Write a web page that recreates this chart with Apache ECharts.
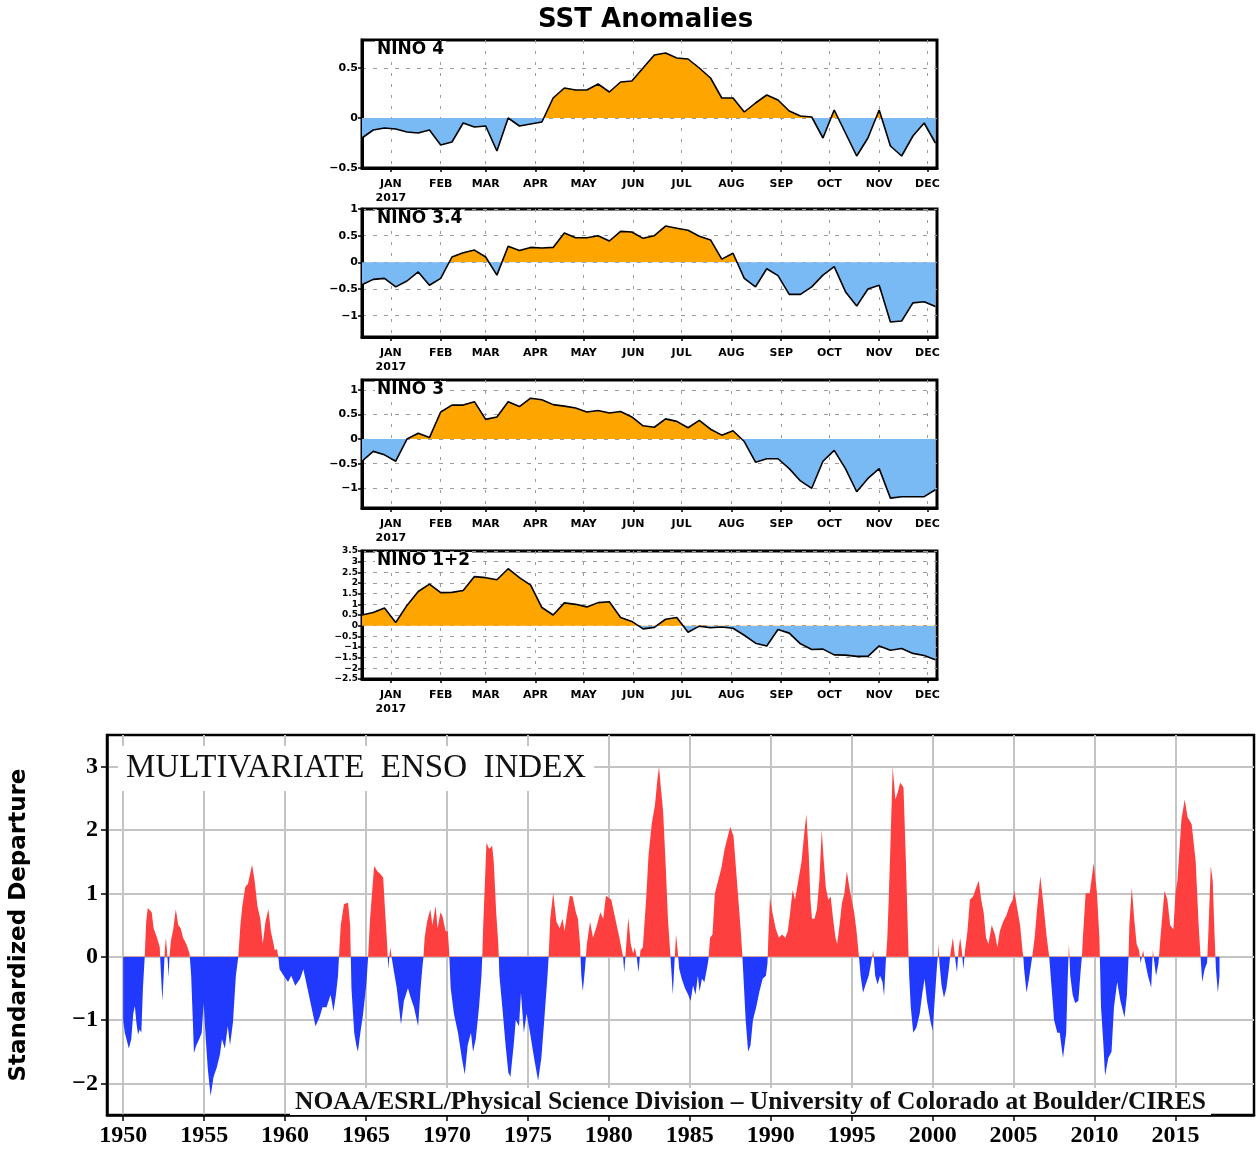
<!DOCTYPE html>
<html lang="en">
<head>
<meta charset="utf-8">
<title>SST Anomalies / Multivariate ENSO Index</title>
<script src="https://cdn.jsdelivr.net/npm/echarts@6.0.0/dist/echarts.min.js"></script>
<style>
  html, body { margin: 0; padding: 0; background: #fff; }
  #main { width: 1256px; height: 1149px; }
</style>
</head>
<body>
<div id="main"></div>
<script>
// ---- weekly Nino SST anomalies (days counted from 1 Jan 2017) ----
var weekDays = [-18, -11, -4, 3, 10, 17, 24, 31, 38, 45, 52, 59, 66, 73, 80, 87, 94, 101, 108, 115,
    122, 129, 136, 143, 150, 157, 164, 171, 178, 185, 192, 199, 206, 213, 220, 227, 234, 241, 248, 255,
    262, 269, 276, 283, 290, 297, 304, 311, 318, 325, 332, 339];
var monthStarts = [0, 31, 59, 90, 120, 151, 181, 212, 243, 273, 304, 334];
var monthNames = ['JAN', 'FEB', 'MAR', 'APR', 'MAY', 'JUN', 'JUL', 'AUG', 'SEP', 'OCT', 'NOV', 'DEC'];

var nino4 = [-0.2, -0.12, -0.1, -0.11, -0.14, -0.15, -0.12, -0.27, -0.24, -0.05,
    -0.09, -0.08, -0.33, 0.0, -0.08, -0.06, -0.04, 0.2, 0.3, 0.28,
    0.28, 0.34, 0.26, 0.36, 0.37, 0.5, 0.63, 0.65, 0.6, 0.59,
    0.5, 0.4, 0.2, 0.2, 0.06, 0.15, 0.23, 0.18, 0.07, 0.02,
    0.01, -0.2, 0.08, -0.15, -0.38, -0.2, 0.08, -0.28, -0.38, -0.18,
    -0.05, -0.25];
var nino34 = [-0.42, -0.32, -0.3, -0.46, -0.35, -0.18, -0.43, -0.3, 0.1, 0.18,
    0.23, 0.1, -0.24, 0.3, 0.22, 0.28, 0.27, 0.28, 0.55, 0.46,
    0.46, 0.5, 0.4, 0.58, 0.57, 0.45, 0.5, 0.68, 0.64, 0.6,
    0.49, 0.42, 0.06, 0.17, -0.3, -0.46, -0.12, -0.25, -0.6, -0.6,
    -0.46, -0.24, -0.08, -0.55, -0.82, -0.5, -0.43, -1.12, -1.1, -0.76,
    -0.74, -0.83];
var nino3 = [-0.45, -0.25, -0.32, -0.45, 0.0, 0.12, 0.03, 0.55, 0.69, 0.69,
    0.76, 0.4, 0.45, 0.76, 0.66, 0.83, 0.8, 0.7, 0.67, 0.63,
    0.55, 0.58, 0.53, 0.56, 0.45, 0.27, 0.24, 0.41, 0.36, 0.23,
    0.38, 0.2, 0.08, 0.17, -0.05, -0.47, -0.4, -0.4, -0.6, -0.85,
    -1.0, -0.45, -0.23, -0.6, -1.07, -0.8, -0.6, -1.2, -1.17, -1.17,
    -1.17, -1.03];
var nino12 = [0.5, 0.62, 0.83, 0.15, 0.95, 1.6, 1.95, 1.55, 1.56, 1.65,
    2.3, 2.25, 2.15, 2.67, 2.25, 1.9, 0.85, 0.5, 1.07, 1.0,
    0.88, 1.08, 1.12, 0.38, 0.2, -0.15, -0.08, 0.3, 0.38, -0.31,
    -0.02, -0.1, -0.06, -0.12, -0.45, -0.82, -0.95, -0.18, -0.35, -0.85,
    -1.12, -1.1, -1.37, -1.38, -1.44, -1.44, -0.95, -1.15, -1.07, -1.3,
    -1.4, -1.6];

var panelNames = ['NINO 4', 'NINO 3.4', 'NINO 3', 'NINO 1+2'];
var panelValues = [nino4, nino34, nino3, nino12];
var panelRanges = [[-0.5, 0.78], [-1.4, 1.0], [-1.4, 1.2], [-2.5, 3.5]];
var panelTicks = [
    [-0.5, 0, 0.5],
    [-1, -0.5, 0, 0.5, 1],
    [-1, -0.5, 0, 0.5, 1],
    [-2.5, -2, -1.5, -1, -0.5, 0, 0.5, 1, 1.5, 2, 2.5, 3, 3.5]
];

// ---- Multivariate ENSO Index, [year, standardized departure] ----
var mei1950s = [[1950.0, -1.0], [1950.1, -1.2], [1950.2, -1.3], [1950.35, -1.45], [1950.5, -1.3], [1950.62, -0.9],
    [1950.72, -0.78], [1950.82, -1.05], [1950.92, -1.23], [1951.02, -1.15], [1951.12, -1.2], [1951.22, -0.5],
    [1951.33, 0.0], [1951.42, 0.55], [1951.52, 0.77], [1951.63, 0.8], [1951.76, 0.7], [1951.88, 0.45],
    [1952.09, 0.3], [1952.26, 0.15], [1952.3, -0.1], [1952.36, -0.4], [1952.42, -0.7], [1952.5, -0.3],
    [1952.57, 0.1], [1952.64, 0.3], [1952.71, 0.3], [1952.76, -0.1], [1952.8, -0.33], [1952.86, 0.0],
    [1952.95, 0.25], [1953.1, 0.45], [1953.25, 0.75], [1953.4, 0.5], [1953.55, 0.45], [1953.7, 0.3],
    [1953.9, 0.2], [1954.1, 0.05], [1954.2, -0.3], [1954.3, -1.0], [1954.37, -1.52], [1954.52, -1.4],
    [1954.7, -1.3], [1954.85, -1.2], [1954.97, -0.73], [1955.1, -1.3], [1955.23, -1.78], [1955.4, -2.2],
    [1955.58, -1.9], [1955.78, -1.75], [1955.98, -1.54], [1956.1, -1.3], [1956.28, -1.45], [1956.46, -1.1],
    [1956.6, -1.4], [1956.78, -1.04], [1956.96, -0.3], [1957.11, 0.0], [1957.24, 0.5], [1957.36, 0.8],
    [1957.54, 1.1], [1957.71, 1.15], [1957.96, 1.45], [1958.12, 1.2], [1958.29, 0.8], [1958.47, 0.6],
    [1958.62, 0.2], [1958.79, 0.55], [1958.97, 0.75], [1959.12, 0.4], [1959.37, 0.1], [1959.5, 0.12]];
var mei1960s = [[1959.58, 0.0], [1959.66, -0.2], [1959.92, -0.3], [1960.18, -0.4], [1960.38, -0.3], [1960.63, -0.46],
    [1960.93, -0.35], [1961.13, -0.2], [1961.38, -0.5], [1961.63, -0.8], [1961.88, -1.1], [1962.14, -0.95],
    [1962.31, -0.8], [1962.56, -0.8], [1962.81, -0.6], [1962.99, -0.86], [1963.14, -0.6], [1963.27, -0.3],
    [1963.35, 0.1], [1963.44, 0.5], [1963.64, 0.83], [1963.89, 0.85], [1964.02, 0.5], [1964.06, 0.0],
    [1964.1, -0.5], [1964.27, -1.2], [1964.4, -1.4], [1964.5, -1.5], [1964.65, -1.2], [1964.82, -0.9],
    [1965.03, -0.4], [1965.13, 0.0], [1965.25, 0.6], [1965.4, 1.1], [1965.5, 1.43], [1965.7, 1.35],
    [1965.9, 1.3], [1966.06, 1.25], [1966.16, 0.8], [1966.28, 0.3], [1966.34, 0.0], [1966.38, -0.2],
    [1966.44, 0.0], [1966.5, 0.15], [1966.58, 0.0], [1966.7, -0.2], [1966.9, -0.5], [1967.16, -1.07],
    [1967.34, -0.7], [1967.59, -0.5], [1967.76, -0.65], [1967.96, -0.8], [1968.22, -1.1], [1968.37, -0.5],
    [1968.47, -0.2], [1968.55, 0.0], [1968.62, 0.3], [1968.77, 0.55], [1968.97, 0.75], [1969.1, 0.5],
    [1969.3, 0.8], [1969.42, 0.45], [1969.6, 0.7], [1969.72, 0.64], [1969.92, 0.4], [1970.05, 0.4], [1970.13, 0.1]];
var mei1970s = [[1970.23, -0.5], [1970.43, -0.9], [1970.68, -1.2], [1970.93, -1.62], [1971.1, -1.86], [1971.28, -1.4],
    [1971.48, -1.2], [1971.61, -1.5], [1971.78, -1.3], [1971.98, -0.8], [1972.13, -0.3], [1972.18, 0.0],
    [1972.24, 0.5], [1972.44, 1.8], [1972.61, 1.7], [1972.79, 1.75], [1972.89, 1.5], [1973.04, 0.7],
    [1973.17, 0.2], [1973.2, 0.0], [1973.24, -0.3], [1973.42, -0.8], [1973.62, -1.4], [1973.79, -1.83],
    [1973.92, -1.9], [1974.12, -1.4], [1974.25, -1.0], [1974.45, -1.1], [1974.57, -0.57], [1974.75, -1.2],
    [1974.92, -0.9], [1975.13, -1.2], [1975.38, -1.6], [1975.63, -1.96], [1975.83, -1.6], [1976.01, -1.0],
    [1976.21, -0.3], [1976.28, 0.0], [1976.38, 0.6], [1976.56, 1.01], [1976.76, 0.55], [1976.96, 0.45],
    [1977.14, 0.6], [1977.26, 0.4], [1977.46, 0.75], [1977.59, 0.96], [1977.76, 0.95], [1977.96, 0.7],
    [1978.09, 0.6], [1978.22, 0.2], [1978.25, 0.0], [1978.3, -0.3], [1978.39, -0.55], [1978.52, -0.2],
    [1978.58, 0.0], [1978.64, 0.2], [1978.84, 0.55], [1979.02, 0.3], [1979.27, 0.5], [1979.47, 0.7],
    [1979.65, 0.6], [1979.82, 0.96]];
var mei1980s = [[1980.15, 0.9], [1980.4, 0.6], [1980.65, 0.3], [1980.8, 0.1], [1980.88, 0.0], [1980.95, -0.25],
    [1981.05, 0.1], [1981.2, 0.62], [1981.35, 0.2], [1981.5, 0.05], [1981.6, 0.15], [1981.72, 0.0],
    [1981.83, -0.25], [1981.95, 0.1], [1982.1, 0.15], [1982.3, 0.9], [1982.45, 1.6], [1982.65, 2.1],
    [1982.85, 2.4], [1983.0, 2.8], [1983.1, 3.0], [1983.2, 2.7], [1983.35, 2.3], [1983.5, 1.5],
    [1983.65, 0.6], [1983.78, 0.1], [1983.88, -0.3], [1983.95, -0.6], [1984.05, -0.1], [1984.15, 0.35],
    [1984.25, 0.1], [1984.35, -0.2], [1984.5, -0.35], [1984.7, -0.5], [1984.9, -0.6], [1985.05, -0.7],
    [1985.2, -0.45], [1985.35, -0.6], [1985.5, -0.3], [1985.6, -0.55], [1985.75, -0.35], [1985.9, -0.4],
    [1986.05, -0.2], [1986.15, -0.05], [1986.25, 0.3], [1986.4, 0.35], [1986.55, 1.0], [1986.75, 1.2],
    [1986.95, 1.4], [1987.15, 1.7], [1987.35, 1.9], [1987.5, 2.05], [1987.7, 1.9], [1987.85, 1.4],
    [1988.0, 0.9], [1988.15, 0.4], [1988.25, 0.0], [1988.35, -0.5], [1988.45, -1.0], [1988.6, -1.5],
    [1988.75, -1.4], [1988.9, -1.0], [1989.1, -0.8], [1989.3, -0.55], [1989.5, -0.35], [1989.7, -0.3],
    [1989.8, -0.1]];
var mei1990s = [[1989.85, 0.3], [1989.95, 0.93], [1990.1, 0.7], [1990.3, 0.45], [1990.5, 0.3], [1990.7, 0.35],
    [1990.9, 0.3], [1991.05, 0.4], [1991.2, 0.7], [1991.35, 1.05], [1991.5, 0.9], [1991.7, 1.2],
    [1991.9, 1.5], [1992.05, 1.9], [1992.2, 2.25], [1992.35, 1.6], [1992.45, 0.9], [1992.55, 0.6],
    [1992.7, 0.6], [1992.85, 0.75], [1993.0, 1.2], [1993.15, 2.0], [1993.25, 1.6], [1993.4, 1.1],
    [1993.55, 0.9], [1993.7, 0.95], [1993.85, 0.6], [1994.0, 0.3], [1994.1, 0.2], [1994.25, 0.5],
    [1994.4, 0.85], [1994.55, 1.0], [1994.7, 1.35], [1994.85, 1.1], [1995.0, 0.9], [1995.15, 0.7],
    [1995.3, 0.4], [1995.45, 0.0], [1995.55, -0.3], [1995.7, -0.57], [1995.85, -0.45], [1996.05, -0.3],
    [1996.2, -0.1], [1996.33, 0.1], [1996.45, -0.3], [1996.6, -0.44], [1996.75, -0.3], [1996.9, -0.4],
    [1997.0, -0.62], [1997.1, -0.1], [1997.2, 0.3], [1997.3, 1.0], [1997.42, 2.0], [1997.53, 3.0],
    [1997.7, 2.48], [1997.85, 2.6], [1998.0, 2.75], [1998.2, 2.67], [1998.35, 1.5], [1998.48, 0.3],
    [1998.55, -0.3], [1998.65, -0.8], [1998.8, -1.2], [1999.0, -1.12], [1999.2, -0.9], [1999.35, -0.6],
    [1999.5, -0.35], [1999.65, -0.7], [1999.85, -1.0]];
var mei2000s = [[2000.0, -1.17], [2000.15, -0.6], [2000.28, -0.1], [2000.32, 0.0], [2000.36, 0.2], [2000.42, -0.1],
    [2000.55, -0.45], [2000.7, -0.65], [2000.85, -0.5], [2001.0, -0.2], [2001.1, 0.05], [2001.25, 0.3],
    [2001.38, 0.0], [2001.5, -0.25], [2001.6, 0.1], [2001.7, 0.3], [2001.8, 0.1], [2001.9, -0.2],
    [2002.0, 0.1], [2002.15, 0.4], [2002.3, 0.9], [2002.5, 0.95], [2002.7, 1.1], [2002.85, 1.2],
    [2003.0, 0.9], [2003.15, 0.7], [2003.3, 0.3], [2003.45, 0.2], [2003.65, 0.5], [2003.85, 0.35],
    [2004.0, 0.15], [2004.15, 0.4], [2004.35, 0.55], [2004.55, 0.65], [2004.75, 0.8], [2004.95, 0.9],
    [2005.05, 1.04], [2005.2, 0.8], [2005.4, 0.5], [2005.55, 0.1], [2005.6, 0.0], [2005.65, -0.2],
    [2005.8, -0.57], [2005.95, -0.35], [2006.15, 0.0], [2006.3, 0.3], [2006.45, 0.75], [2006.65, 1.27],
    [2006.85, 0.8], [2007.05, 0.3], [2007.2, 0.0], [2007.35, -0.5], [2007.5, -1.0], [2007.7, -1.2],
    [2007.85, -1.2], [2008.05, -1.6], [2008.25, -1.2], [2008.35, -0.3], [2008.42, 0.2], [2008.5, -0.3],
    [2008.65, -0.6], [2008.8, -0.73], [2009.0, -0.7], [2009.15, -0.2], [2009.22, 0.0], [2009.28, 0.3],
    [2009.45, 1.0], [2009.7, 1.0], [2009.95, 1.48], [2010.15, 1.0], [2010.3, 0.3]];
var mei2010s = [[2010.4, -0.8], [2010.55, -1.4], [2010.65, -1.88], [2010.85, -1.6], [2011.05, -1.5], [2011.2, -0.8],
    [2011.4, -0.4], [2011.6, -0.7], [2011.85, -0.96], [2012.0, -0.6], [2012.1, 0.0], [2012.15, 0.5],
    [2012.3, 1.09], [2012.45, 0.6], [2012.6, 0.2], [2012.75, 0.1], [2012.85, -0.1], [2013.0, 0.1],
    [2013.1, -0.05], [2013.3, -0.3], [2013.5, -0.49], [2013.6, 0.1], [2013.7, -0.1], [2013.8, -0.3],
    [2013.95, -0.1], [2014.07, 0.3], [2014.32, 1.04], [2014.5, 0.9], [2014.67, 0.5], [2014.87, 0.43],
    [2015.0, 1.0], [2015.12, 1.2], [2015.37, 2.17], [2015.57, 2.48], [2015.75, 2.2], [2016.0, 2.09],
    [2016.25, 1.5], [2016.43, 0.5], [2016.55, 0.0], [2016.65, -0.4], [2016.8, -0.2], [2016.95, -0.1],
    [2017.02, 0.3], [2017.18, 1.43], [2017.3, 1.2], [2017.42, 0.3], [2017.5, -0.2], [2017.62, -0.57],
    [2017.72, -0.3]];
var meiYearTicks = [1950, 1955, 1960, 1965, 1970, 1975, 1980, 1985, 1990, 1995, 2000, 2005, 2010, 2015];
var meiValueTicks = [-2, -1, 0, 1, 2, 3];

var meiData = [].concat(mei1950s, mei1960s, mei1970s, mei1980s, mei1990s, mei2000s, mei2010s);

var myChart = echarts.init(document.getElementById('main'));

var panelTop = [40, 209, 380, 551];
var minusFmt = function (v) {
    if (v === 0) return '0';
    return v < 0 ? '\u2212' + Math.abs(v) : String(v);
};

var grids = [], xAxes = [], yAxes = [], series = [], visualMaps = [];
var titles = [{
    text: 'SST Anomalies', left: 538, top: 7, padding: 0,
    textStyle: { fontFamily: 'DejaVu Sans', fontWeight: 'bold', fontSize: 26, color: '#000' }
}];

for (var k = 0; k < 4; k++) {
    grids.push({
        left: 362, width: 575, top: panelTop[k], height: 128,
        show: true, borderColor: '#000', borderWidth: 3, backgroundColor: 'transparent'
    });
    xAxes.push({
        type: 'value', gridIndex: k, min: -18, max: 340,
        axisLine: { show: true, onZero: false, lineStyle: { color: '#000', width: 3 } },
        axisTick: { show: true, customValues: monthStarts, length: 4, lineStyle: { color: '#000', width: 1.5 } },
        axisLabel: {
            customValues: monthStarts, margin: 9, color: '#000', lineHeight: 14,
            fontFamily: 'DejaVu Sans', fontWeight: 'bold', fontSize: 11,
            formatter: function (v) {
                var i = monthStarts.indexOf(v);
                return i === 0 ? 'JAN\n2017' : monthNames[i];
            }
        },
        splitLine: { show: true, lineStyle: { color: '#9c9c9c', width: 1, type: [3, 8] } }
    });
    yAxes.push({
        type: 'value', gridIndex: k, min: panelRanges[k][0], max: panelRanges[k][1],
        axisLine: { show: true, onZero: false, lineStyle: { color: '#000', width: 3 } },
        axisTick: { show: true, customValues: panelTicks[k], length: 4, lineStyle: { color: '#000', width: 1.5 } },
        axisLabel: {
            customValues: panelTicks[k], margin: 4, color: '#000',
            fontFamily: 'DejaVu Sans', fontWeight: 'bold', fontSize: k === 3 ? 9 : 11,
            formatter: minusFmt
        },
        splitLine: { show: true, lineStyle: { color: '#9c9c9c', width: 1, type: [4, 7] } }
    });
    series.push({
        type: 'line', xAxisIndex: k, yAxisIndex: k,
        data: weekDays.map(function (d, i) { return [d, panelValues[k][i]]; }),
        symbol: 'none', z: 3,
        lineStyle: { color: '#000', width: 1.6 },
        areaStyle: { opacity: 1 }
    });
    visualMaps.push({
        type: 'piecewise', show: false, seriesIndex: k, dimension: 1,
        pieces: [{ gte: 0, lte: 10, color: '#ffa500' }, { gte: -10, lt: 0, color: '#79b9f4' }]
    });
    titles.push({
        text: panelNames[k], left: 375, top: panelTop[k] + 2, padding: [0, 2],
        backgroundColor: '#fff',
        textStyle: { fontFamily: 'DejaVu Sans', fontWeight: 'bold', fontSize: 17, color: '#000', lineHeight: 15 }
    });
}

// MEI panel
grids.push({
    left: 107, right: 2, top: 735, height: 380,
    show: true, borderColor: '#000', borderWidth: 2.5, backgroundColor: 'transparent'
});
xAxes.push({
    type: 'value', gridIndex: 4, min: 1949, max: 2019.85,
    axisLine: { show: true, onZero: false, lineStyle: { color: '#000', width: 2.5 } },
    axisTick: { show: true, customValues: meiYearTicks, length: 6, lineStyle: { color: '#000', width: 1.5 } },
    axisLabel: {
        customValues: meiYearTicks, margin: 9, color: '#000',
        fontFamily: 'Liberation Serif', fontWeight: 'bold', fontSize: 24,
        formatter: function (v) { return String(v); }
    },
    splitLine: { show: true, lineStyle: { color: '#c4c4c4', width: 2 } }
});
yAxes.push({
    type: 'value', gridIndex: 4, min: -2.5, max: 3.5,
    name: 'Standardized Departure', nameLocation: 'middle', nameRotate: 90, nameGap: 76,
    nameTextStyle: { fontFamily: 'DejaVu Sans', fontWeight: 'bold', fontSize: 23, color: '#000' },
    axisLine: { show: true, onZero: false, lineStyle: { color: '#000', width: 2.5 } },
    axisTick: { show: true, customValues: meiValueTicks, length: 6, lineStyle: { color: '#000', width: 1.5 } },
    axisLabel: {
        customValues: meiValueTicks, margin: 9, color: '#000',
        fontFamily: 'Liberation Serif', fontWeight: 'bold', fontSize: 24,
        formatter: minusFmt
    },
    splitLine: { show: true, lineStyle: { color: '#c4c4c4', width: 2 } }
});
series.push({
    type: 'line', xAxisIndex: 4, yAxisIndex: 4,
    data: meiData, symbol: 'none', z: 2,
    lineStyle: { width: 0, opacity: 0 },
    areaStyle: { opacity: 1 }
});
visualMaps.push({
    type: 'piecewise', show: false, seriesIndex: 4, dimension: 1,
    pieces: [{ gte: 0, lte: 10, color: '#fd3f3f' }, { gte: -10, lt: 0, color: '#2138fd' }]
});
titles.push({
    text: 'MULTIVARIATE  ENSO  INDEX', left: 118, top: 746, padding: [6, 8, 6, 8],
    backgroundColor: '#fff',
    textStyle: { fontFamily: 'Liberation Serif', fontWeight: 'normal', fontSize: 33, color: '#111' }
});
titles.push({
    text: 'NOAA/ESRL/Physical Science Division \u2013 University of Colorado at Boulder/CIRES',
    left: 290, top: 1089, padding: [1, 5, 0, 5], backgroundColor: '#fff',
    textStyle: { fontFamily: 'Liberation Serif', fontSize: 25.5, color: '#111', lineHeight: 24 }
});

var option = {
    animation: false,
    backgroundColor: '#fff',
    title: titles,
    grid: grids,
    xAxis: xAxes,
    yAxis: yAxes,
    visualMap: visualMaps,
    series: series
};
myChart.setOption(option);
window.onresize = function () {
    myChart.resize();
};
</script>
</body>
</html>
